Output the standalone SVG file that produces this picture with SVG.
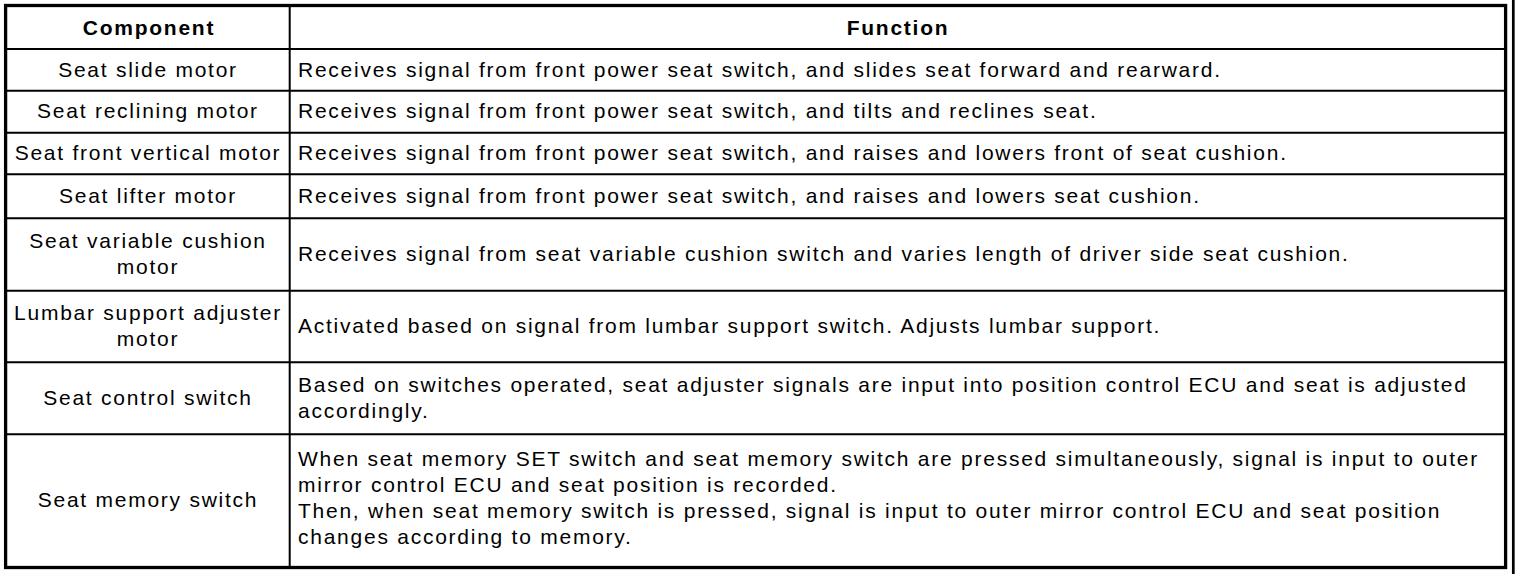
<svg xmlns="http://www.w3.org/2000/svg" width="1520" height="574" viewBox="0 0 1520 574">
<style>
  text { font-family: "Liberation Sans", Arial, Helvetica, sans-serif; font-size: 21px; fill: #000; letter-spacing: 1.75px; }
  .h { font-weight: bold; }
  .c { text-anchor: middle; }
  .grid line { stroke: #000; stroke-width: 2; }
  .outer { fill: none; stroke: #000; stroke-width: 3.3; }
</style>
<rect x="0" y="0" width="1520" height="574" fill="#fff"/>
<g id="connectors" class="grid">
  <line x1="289.7" y1="5.5" x2="289.7" y2="567.5"/>
  <line x1="5.5" y1="49" x2="1505.5" y2="49"/>
  <line x1="5.5" y1="90.7" x2="1505.5" y2="90.7"/>
  <line x1="5.5" y1="132.7" x2="1505.5" y2="132.7"/>
  <line x1="5.5" y1="174.3" x2="1505.5" y2="174.3"/>
  <line x1="5.5" y1="218.3" x2="1505.5" y2="218.3"/>
  <line x1="5.5" y1="290.7" x2="1505.5" y2="290.7"/>
  <line x1="5.5" y1="362.3" x2="1505.5" y2="362.3"/>
  <line x1="5.5" y1="434.3" x2="1505.5" y2="434.3"/>
</g>
<rect class="outer" x="5.6" y="5.5" width="1500" height="562"/>
<line x1="1513.3" y1="0" x2="1513.3" y2="574" stroke="#000" stroke-width="2.7"/>
<g id="header">
  <text class="h c" x="149" y="35">Component</text>
  <text class="h c" x="898" y="35">Function</text>
</g>
<g id="row-seat-slide-motor">
  <text class="c" x="148" y="77">Seat slide motor</text>
  <text x="298" y="77">Receives signal from front power seat switch, and slides seat forward and rearward.</text>
</g>
<g id="row-seat-reclining-motor">
  <text class="c" x="148" y="118">Seat reclining motor</text>
  <text x="298" y="118">Receives signal from front power seat switch, and tilts and reclines seat.</text>
</g>
<g id="row-seat-front-vertical-motor">
  <text class="c" x="148" y="160">Seat front vertical motor</text>
  <text x="298" y="160">Receives signal from front power seat switch, and raises and lowers front of seat cushion.</text>
</g>
<g id="row-seat-lifter-motor">
  <text class="c" x="148" y="203">Seat lifter motor</text>
  <text x="298" y="203">Receives signal from front power seat switch, and raises and lowers seat cushion.</text>
</g>
<g id="row-seat-variable-cushion-motor">
  <text class="c" x="148" y="248">Seat variable cushion</text>
  <text class="c" x="148" y="274">motor</text>
  <text x="298" y="261">Receives signal from seat variable cushion switch and varies length of driver side seat cushion.</text>
</g>
<g id="row-lumbar-support-adjuster-motor">
  <text class="c" x="148" y="320">Lumbar support adjuster</text>
  <text class="c" x="148" y="346">motor</text>
  <text x="298" y="333">Activated based on signal from lumbar support switch. Adjusts lumbar support.</text>
</g>
<g id="row-seat-control-switch">
  <text class="c" x="148" y="405">Seat control switch</text>
  <text x="298" y="392">Based on switches operated, seat adjuster signals are input into position control ECU and seat is adjusted</text>
  <text x="298" y="418">accordingly.</text>
</g>
<g id="row-seat-memory-switch">
  <text class="c" x="148" y="507">Seat memory switch</text>
  <text x="298" y="466">When seat memory SET switch and seat memory switch are pressed simultaneously, signal is input to outer</text>
  <text x="298" y="492">mirror control ECU and seat position is recorded.</text>
  <text x="298" y="518">Then, when seat memory switch is pressed, signal is input to outer mirror control ECU and seat position</text>
  <text x="298" y="544">changes according to memory.</text>
</g>
</svg>
